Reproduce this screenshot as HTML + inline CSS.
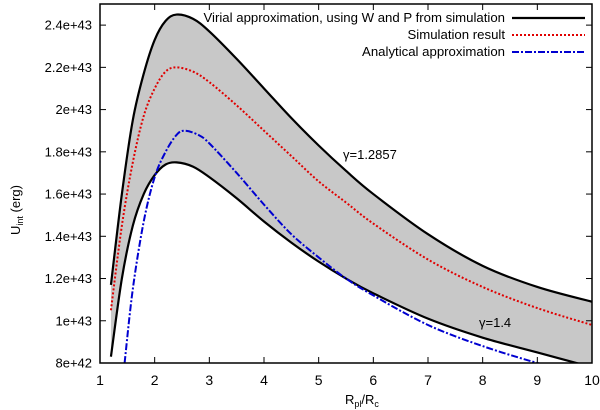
<!DOCTYPE html>
<html><head><meta charset="utf-8"><style>
body{margin:0;background:#fff;}
svg{display:block;font-family:"Liberation Sans",sans-serif;}
</style></head><body>
<svg id="chart" width="600" height="410"></svg>
<script>
const xTicks=[1,2,3,4,5,6,7,8,9,10];
const yTicks=[8e42,1e43,1.2e43,1.4e43,1.6e43,1.8e43,2e43,2.2e43,2.4e43];
const yTickLabels=["8e+42","1e+43","1.2e+43","1.4e+43","1.6e+43","1.8e+43","2e+43","2.2e+43","2.4e+43"];
const upperX=[1.2,1.4,1.6,1.8,2,2.2,2.4,2.7,3,3.5,4,4.5,5,5.5,6,7,8,9,10];
const upperY=[1.17,1.6,1.95,2.17,2.33,2.42,2.45,2.43,2.37,2.24,2.1,1.96,1.83,1.71,1.6,1.41,1.26,1.16,1.09];
const redX=[1.2,1.4,1.6,1.8,2,2.2,2.4,2.7,3,3.5,4,4.5,5,5.5,6,7,8,9,10];
const redY=[1.05,1.45,1.75,1.97,2.1,2.18,2.2,2.18,2.13,2.02,1.9,1.78,1.66,1.56,1.46,1.29,1.16,1.06,0.98];
const lowerX=[1.2,1.4,1.6,1.8,2,2.2,2.4,2.7,3,3.5,4,4.5,5,5.5,6,7,8,9,10];
const lowerY=[0.83,1.2,1.45,1.6,1.69,1.74,1.75,1.73,1.68,1.58,1.47,1.37,1.28,1.2,1.13,1.01,0.92,0.85,0.78];
const blueX=[1.45,1.6,1.8,2,2.2,2.4,2.55,2.8,3,3.5,4,4.5,5,5.5,6,7,8,9,9.5];
const blueY=[0.8,1.15,1.47,1.68,1.8,1.88,1.9,1.88,1.84,1.7,1.55,1.41,1.3,1.2,1.12,0.98,0.88,0.8,0.77];
const L=100,R=592,T=4,B=363;
const sx=v=>L+(v-1)/9*(R-L);
const sy=v=>B-(v-8e42)/(2.5e43-8e42)*(B-T);
const svg=document.getElementById('chart');
const NS='http://www.w3.org/2000/svg';
function mk(tag,at,parent){const e=document.createElementNS(NS,tag);for(const k in at)e.setAttribute(k,at[k]);(parent||svg).appendChild(e);return e;}
const defs=mk('defs',{});
const cp=mk('clipPath',{id:'clip'},defs);mk('rect',{x:L,y:T,width:R-L,height:B-T},cp);
const g=mk('g',{'clip-path':'url(#clip)'});
const pts=(xs,ys)=>xs.map((x,i)=>[sx(x),sy(ys[i]*1e43)]);
function smooth(p){let d='M'+p[0][0]+','+p[0][1];for(let i=0;i<p.length-1;i++){const p0=p[i-1]||p[i],p1=p[i],p2=p[i+1],p3=p[i+2]||p2;d+=' C'+(p1[0]+(p2[0]-p0[0])/6)+','+(p1[1]+(p2[1]-p0[1])/6)+' '+(p2[0]-(p3[0]-p1[0])/6)+','+(p2[1]-(p3[1]-p1[1])/6)+' '+p2[0]+','+p2[1];}return d;}
const up=pts(upperX,upperY),lo=pts(lowerX,lowerY);
const band=mk('path',{d:smooth(up)+' L'+smooth(lo.slice().reverse()).slice(1),fill:'#c8c8c8',stroke:'none'},g);


const u=mk('path',{d:smooth(up),fill:'none',stroke:'#000','stroke-width':2.2},g);


const l=mk('path',{d:smooth(lo),fill:'none',stroke:'#000','stroke-width':2.2},g);


const r=mk('path',{d:smooth(pts(redX,redY)),fill:'none',stroke:'#e00000','stroke-width':2,'stroke-dasharray':'2,2'},g);


const b=mk('path',{d:smooth(pts(blueX,blueY)),fill:'none',stroke:'#0000d0','stroke-width':2,'stroke-dasharray':'7,2,2,2'},g);


mk('rect',{x:L,y:T,width:R-L,height:B-T,fill:'none',stroke:'#000','stroke-width':1.5});
xTicks.forEach(v=>{const x=sx(v);
mk('line',{x1:x,x2:x,y1:B,y2:B-6,stroke:'#000'});mk('line',{x1:x,x2:x,y1:T,y2:T+6,stroke:'#000'});
const t=mk('text',{x:x,y:B+22,'text-anchor':'middle','font-size':14});t.textContent=v;

});
yTicks.forEach((v,i)=>{const y=sy(v);
mk('line',{x1:L,x2:L+6,y1:y,y2:y,stroke:'#000'});mk('line',{x1:R,x2:R-6,y1:y,y2:y,stroke:'#000'});
const t=mk('text',{x:L-8,y:y+4.5,'text-anchor':'end','font-size':13});t.textContent=yTickLabels[i];

});
</script>
<svg width="600" height="410" style="position:absolute;left:0;top:0">
<text x="345" y="404" font-size="13">R<tspan font-size="9" dy="3">pl</tspan><tspan dy="-3">/R</tspan><tspan font-size="9" dy="3">c</tspan></text>
<text transform="translate(20,210) rotate(-90)" font-size="13" text-anchor="middle">U<tspan font-size="9" dy="3">int</tspan><tspan dy="-3"> (erg)</tspan></text>
<g font-size="13.2" text-anchor="end">
<text x="505" y="22">Virial approximation, using W and P from simulation</text>
<text x="505" y="39">Simulation result</text>
<text x="505" y="56">Analytical approximation</text>
</g>
<line x1="512" x2="585" y1="18" y2="18" stroke="#000" stroke-width="2.2"/>
<line x1="512" x2="585" y1="35" y2="35" stroke="#e00000" stroke-width="2" stroke-dasharray="2,2"/>
<line x1="512" x2="585" y1="52" y2="52" stroke="#0000d0" stroke-width="2" stroke-dasharray="7,2,2,2"/>
<text x="343" y="159" font-size="13">γ=1.2857</text>
<text x="479" y="327" font-size="13">γ=1.4</text>
</svg>
</body></html>
